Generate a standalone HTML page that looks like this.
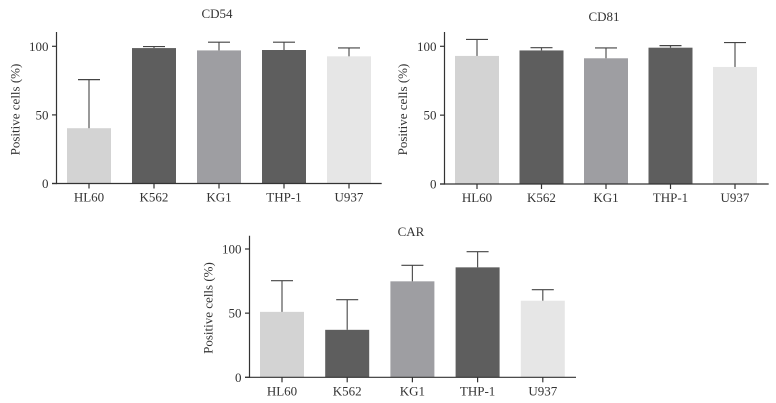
<!DOCTYPE html>
<html>
<head>
<meta charset="utf-8">
<style>
html,body{margin:0;padding:0;background:#fff;}
svg{display:block;}
text{font-family:"Liberation Serif",serif;fill:#333;}
</style>
</head>
<body>
<svg id="figure" width="776" height="403" viewBox="0 0 776 403" xmlns="http://www.w3.org/2000/svg"></svg>
<script>
const categories = ["HL60", "K562", "KG1", "THP-1", "U937"];
const tickLabels = [0, 50, 100];
const cd54Values = [40.3, 98.7, 97, 97.3, 92.7];
const cd54ErrorTops = [75.7, 99.8, 103, 103, 98.8];
const cd81Values = [93, 97, 91.3, 99, 85];
const cd81ErrorTops = [105, 99, 98.8, 100.5, 102.7];
const carValues = [51, 37, 74.8, 85.7, 59.7];
const carErrorTops = [75.3, 60.5, 87.3, 97.9, 68.3];
const barColors = ["#d3d3d3", "#5e5e5e", "#9e9ea2", "#5e5e5e", "#e6e6e6"];

const svg = document.getElementById('figure');
const NS = 'http://www.w3.org/2000/svg';

function make(tag, attrs, parent, txt) {
  const el = document.createElementNS(NS, tag);
  for (const k in attrs) el.setAttribute(k, attrs[k]);
  if (txt !== undefined) el.textContent = txt;
  parent.appendChild(el);
  return el;
}

function drawChart(name, title, values, errorTops, g) {
  const group = make('g', {}, svg);
  
  
  const yScale = v => g.base - (v / 100) * (g.base - g.y100);
  const xScale = i => g.first + i * g.step;

  values.forEach((v, i) => {
    const bar = make('rect', {x: xScale(i) - 22, y: yScale(v), width: 44, height: g.base - yScale(v), fill: barColors[i]}, group);
    
    
    const stem = make('line', {x1: xScale(i), x2: xScale(i), y1: yScale(v), y2: yScale(errorTops[i]), stroke: '#555', 'stroke-width': 1.2}, group);
    
    
    const cap = make('line', {x1: xScale(i) - 11, x2: xScale(i) + 11, y1: yScale(errorTops[i]), y2: yScale(errorTops[i]), stroke: '#444', 'stroke-width': 1.2}, group);
    
    
  });

  const yAxis = make('line', {x1: g.axisX, x2: g.axisX, y1: g.top, y2: g.base + 0.6, stroke: '#333', 'stroke-width': 1.2}, group);
  
  
  const xAxis = make('line', {x1: g.axisX - 4.5, x2: g.end, y1: g.base, y2: g.base, stroke: '#333', 'stroke-width': 1.2}, group);
  
  

  tickLabels.forEach(t => {
    const tick = make('line', {x1: g.axisX - 4.5, x2: g.axisX, y1: yScale(t), y2: yScale(t), stroke: '#333', 'stroke-width': 1.2}, group);
    
    
    const label = make('text', {x: g.axisX - 8, y: yScale(t) + 4.5, 'text-anchor': 'end', 'font-size': 13}, group, String(t));
    
    
  });

  categories.forEach((c, i) => {
    const tick = make('line', {x1: xScale(i), x2: xScale(i), y1: g.base, y2: g.base + 5, stroke: '#333', 'stroke-width': 1.2}, group);
    
    
    const label = make('text', {x: xScale(i), y: g.base + 18, 'text-anchor': 'middle', 'font-size': 13}, group, c);
    
    
  });

  const titleEl = make('text', {x: g.titleX, y: g.titleY, 'text-anchor': 'middle', 'font-size': 13}, group, title);
  
  

  const yTitle = make('text', {transform: 'translate(' + g.yTitleX + ',' + g.yTitleY + ') rotate(-90)', 'text-anchor': 'middle', 'font-size': 13}, group, 'Positive cells (%)');
  
  
}

drawChart('cd54', 'CD54', cd54Values, cd54ErrorTops, {axisX: 56.5, base: 183.5, y100: 46.3, top: 32, end: 381.7, first: 89, step: 65, titleX: 217, titleY: 18, yTitleX: 19.5, yTitleY: 109.5});
drawChart('cd81', 'CD81', cd81Values, cd81ErrorTops, {axisX: 444.5, base: 184, y100: 46.3, top: 32, end: 768.7, first: 477, step: 64.5, titleX: 604, titleY: 21, yTitleX: 407, yTitleY: 109.5});
drawChart('car', 'CAR', carValues, carErrorTops, {axisX: 249.5, base: 377.3, y100: 249, top: 235.7, end: 576, first: 282, step: 65.2, titleX: 411, titleY: 236, yTitleX: 212.5, yTitleY: 308});
</script>
</body>
</html>
